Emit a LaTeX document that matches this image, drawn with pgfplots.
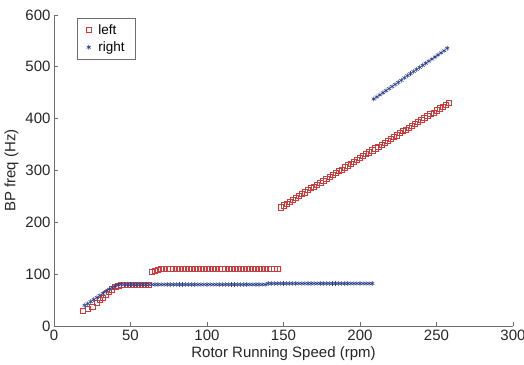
\documentclass[border=0pt]{standalone}
\usepackage{pgfplots}
\pgfplotsset{compat=1.18}
\usepackage{fontspec}
\setmainfont{Liberation Sans}
\definecolor{mred}{RGB}{205,60,60}
\definecolor{mblue}{RGB}{45,65,140}
\definecolor{axgray}{RGB}{110,110,110}
\begin{document}
\begin{tikzpicture}
\begin{axis}[
  scale only axis,
  width=459pt, height=311pt,
  xmin=0, xmax=300, ymin=0, ymax=600,
  xtick={0,50,...,300}, ytick={0,100,...,600},
  axis x line*=bottom, axis y line*=left,
  axis line style={axgray, line width=0.8pt},
  tick style={axgray, line width=0.8pt},
  tick align=inside, major tick length=4pt,
  /pgf/number format/assume math mode=true,
  ticklabel style={font=\fontsize{15}{17}\selectfont, text=black!85},
  label style={font=\fontsize{15}{17}\selectfont, text=black!85},
  xlabel={Rotor Running Speed (rpm)},
  ylabel={BP freq (Hz)},
  xlabel style={yshift=-3pt, inner sep=0pt},
  ylabel style={yshift=0pt},
  legend style={at={(0.05,0.99)}, anchor=north west, draw=axgray,
    font=\fontsize{13.5}{15}\selectfont, inner xsep=9pt, inner ysep=4pt,
    row sep=2pt,
    /tikz/every odd column/.append style={column sep=5pt}},
  legend cell align=left,
]
\addplot[only marks, mark=square, mark size=2.6pt, mred, mark options={line width=0.6pt}] coordinates {
(19,29) (22,33) (25,37) (28,44) (30,50) (32,55) (34,61) (36,66) (38,71) (40,75)
(42,78) (44,79) (46,80) (48,80) (50,80) (52,80) (54,80) (56,80) (58,80) (60,80) (62,80)
(64,104) (66,107) (68,109) (70,110) (72,111) (74,111) (76,111) (78,110) (80,110)
(82,110) (84,110) (86,110) (88,110) (90,110) (92,110) (94,110) (96,110) (98,110)
(100,110) (102,110) (104,110) (106,110) (108,110) (110,110) (112,110) (114,110)
(116,110) (118,110) (120,110) (122,110) (124,110) (126,110) (128,110) (130,110)
(132,110) (134,110) (136,110) (138,110) (140,110) (142,110) (144,110) (146,110)
(148,229) (150,233) (152,236) (154,240) (156,244) (158,247) (160,251) (162,255)
(164,258) (166,262) (168,266) (170,269) (172,273) (174,277) (176,280) (178,284)
(180,288) (182,291) (184,295) (186,299) (188,302) (190,306) (192,310) (194,313)
(196,317) (198,321) (200,324) (202,328) (204,332) (206,335) (208,339) (210,343)
(212,346) (214,350) (216,354) (218,357) (220,361) (222,365) (224,368) (226,372)
(228,376) (230,379) (232,383) (234,387) (236,390) (238,394) (240,398) (242,401)
(244,405) (246,409) (248,412) (250,416) (252,420) (254,423) (256,427) (258,430)
};
\addlegendentry{left}
\addplot[only marks, mark=asterisk, mark size=2.4pt, mblue, mark options={line width=0.6pt}] coordinates {
(20,40) (22,43) (24,47) (26,51) (28,55) (30,59) (32,63) (34,67) (36,71) (38,74)
(40,77) (42,79) (44,80) (46,80) (48,80) (50,80) (52,80) (54,80) (56,80) (58,80)
(60,80) (62,80) (64,80) (66,80) (68,80) (70,80) (72,80) (74,80) (76,80) (78,80)
(80,80) (82,80) (84,80) (86,80) (88,80) (90,80) (92,80) (94,80) (96,80) (98,80)
(100,80) (102,80) (104,80) (106,80) (108,80) (110,80) (112,80) (114,80) (116,80)
(118,80) (120,80) (122,80) (124,80) (126,80) (128,80) (130,80) (132,80) (134,80)
(136,80) (138,80) (140,82) (142,82) (144,82) (146,82) (148,82) (150,82) (152,82)
(154,82) (156,82) (158,82) (160,82) (162,82) (164,82) (166,82) (168,82) (170,82)
(172,82) (174,82) (176,82) (178,82) (180,82) (182,82) (184,82) (186,82) (188,82)
(190,82) (192,82) (194,82) (196,82) (198,82) (200,82) (202,82) (204,82) (206,82)
(208,82)
(209,438) (211,442) (213,446) (215,450) (217,454) (219,458) (221,462) (223,466)
(225,470) (227,474) (229,479) (231,483) (233,487) (235,491) (237,495) (239,499)
(241,503) (243,507) (245,511) (247,515) (249,519) (251,523) (253,527) (255,531)
(257,536)
};
\addlegendentry{right}
\end{axis}
\pgfresetboundingbox
\path (current axis.origin) ++(-54pt,-38pt) rectangle ++(524pt,364pt);
\end{tikzpicture}
\end{document}
